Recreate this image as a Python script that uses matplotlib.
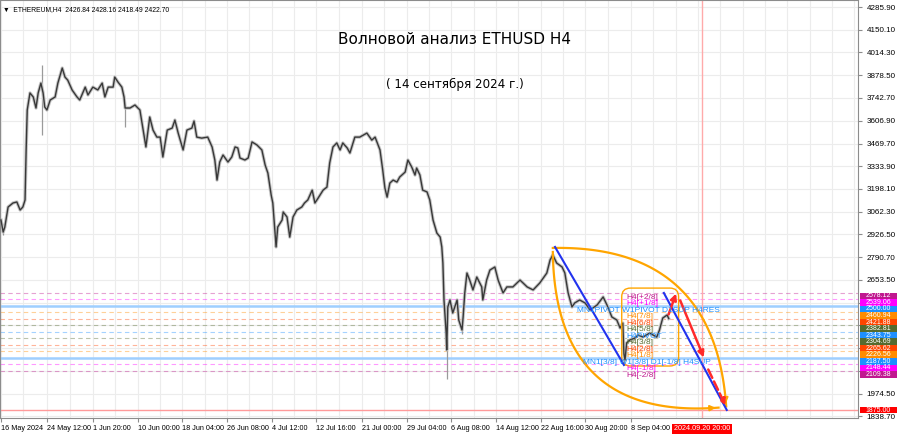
# ETHUSD H4 wave analysis chart (MT4 style) - recreated with matplotlib
import numpy as np
import matplotlib.pyplot as plt
from matplotlib.patches import FancyBboxPatch, Rectangle
import matplotlib.transforms as mtransforms

plt.rcParams['font.family'] = ['DejaVu Sans']
UI_FONT = ['Liberation Sans', 'DejaVu Sans']

# --- price path (days since 16 May 2024 00:00, close price)
days = [0.0, 0.4, 0.7, 1.3, 2.2, 2.9, 3.5, 4.0, 4.4, 4.6, 4.8, 5.3, 5.9, 6.4, 6.8,
        7.3, 7.7, 8.0, 8.4, 9.0, 9.9, 10.4, 11.2, 11.7, 12.2, 13.0, 13.9, 14.4,
        15.4, 15.9, 16.8, 17.7, 18.5, 19.0, 19.6, 20.5, 20.8, 21.4, 22.1, 22.5,
        22.7, 23.6, 24.5, 25.4, 26.0, 26.5, 27.2, 27.8, 28.5, 29.1, 29.6, 30.4,
        31.3, 31.8, 32.4, 33.3, 34.0, 34.9, 35.3, 35.8, 36.7, 37.8, 38.6, 39.1,
        39.5, 40.0, 40.6, 41.5, 42.2, 42.8, 43.3, 43.7, 44.6, 45.2, 45.9, 46.8,
        47.7, 48.3, 48.8, 49.4, 49.7, 50.3, 50.6, 51.4, 51.6, 52.3, 52.8, 53.4,
        54.1, 55.0, 55.5, 56.1, 56.9, 57.4, 58.0, 58.9, 59.6, 60.1, 60.7, 61.4,
        62.0, 62.5, 63.3, 63.8, 64.7, 65.6, 66.9, 67.8, 68.4, 69.3, 69.8, 70.2,
        70.6, 71.1, 71.7, 72.4, 72.9, 73.9, 74.4, 75.1, 75.7, 76.0, 76.6, 77.1,
        77.9, 78.4, 79.0, 79.7, 80.3, 80.6, 80.8, 81.0, 81.4, 81.5, 81.7, 82.1,
        82.6, 83.4, 83.7, 84.3, 84.5, 84.8, 85.2, 85.7, 86.3, 87.0, 87.9, 88.1,
        88.8, 89.4, 90.3, 90.9, 91.8, 92.5, 93.6, 94.9, 96.2, 97.3, 98.5, 99.8,
        100.4, 100.9, 101.6, 102.6, 103.1, 103.7, 104.4, 104.9, 105.8, 106.8,
        107.7, 109.0, 110.1, 110.8, 111.7, 112.6, 113.2, 113.7, 113.9, 114.1,
        114.4, 115.0, 115.9, 116.5, 117.4, 118.6, 119.9, 120.4, 121.0, 121.8, 122.1]
close = [3012, 2940, 2970, 3090, 3114, 3120, 3072, 3090, 3132, 3431, 3670, 3772, 3748,
         3682, 3772, 3831, 3772, 3688, 3670, 3730, 3748, 3831, 3921, 3867, 3849, 3790,
         3748, 3730, 3807, 3760, 3807, 3790, 3831, 3748, 3807, 3807, 3867, 3837, 3807,
         3748, 3682, 3682, 3700, 3670, 3550, 3449, 3628, 3550, 3508, 3508, 3389, 3550,
         3562, 3610, 3532, 3431, 3550, 3562, 3604, 3508, 3502, 3508, 3449, 3371, 3251,
         3359, 3401, 3359, 3389, 3449, 3443, 3383, 3371, 3383, 3479, 3461, 3431, 3341,
         3293, 3162, 3114, 2851, 2970, 3012, 3060, 3030, 2910, 3030, 3072, 3090, 3114,
         3132, 3191, 3114, 3144, 3191, 3209, 3353, 3449, 3473, 3431, 3473, 3443, 3413,
         3508, 3508, 3532, 3490, 3508, 3431, 3311, 3203, 3149, 3233, 3251, 3239, 3269,
         3299, 3371, 3329, 3281, 3323, 3281, 3191, 3180, 3132, 3012, 2934, 2910, 2851,
         2755, 2534, 2336, 2235, 2492, 2534, 2456, 2534, 2414, 2354, 2432, 2576, 2695,
         2653, 2594, 2671, 2612, 2534, 2653, 2713, 2731, 2653, 2576, 2612, 2612, 2653,
         2612, 2594, 2635, 2695, 2773, 2803, 2755, 2731, 2695, 2576, 2492, 2516, 2534,
         2516, 2474, 2504, 2552, 2504, 2432, 2414, 2366, 2396, 2211, 2175, 2277, 2295,
         2306, 2324, 2312, 2336, 2312, 2354, 2426, 2444, 2422.7]

# long wicks (day, low, high)
wick_days = [0.4, 7.5, 22.7, 81.5, 84.3, 113.9]
wick_low = [2925, 3520, 3568, 2060, 2330, 2150]
wick_high = [2990, 3939, 3700, 2300, 2440, 2260]

# --- Murrey math / pivot levels
levels = [2578.12, 2539.06, 2500.00, 2460.94, 2421.88, 2382.81, 2343.75,
          2304.69, 2265.62, 2226.56, 2187.50, 2148.44, 2109.38]
level_colors = ['#c0188f', '#ff00ff', '#1e90ff', '#ff8c00', '#ff4500', '#556b2f',
                '#1e90ff', '#556b2f', '#ff4500', '#ff8c00', '#1e90ff', '#ff00ff', '#c0188f']
level_names = ['H4[+2/8]', 'H4[+1/8]', 'MN1PIVOT W1PIVOT D1SUP H4RES', 'H4[7/8]',
               'H4[6/8]', 'H4[5/8]', 'H4PIVOT', 'H4[3/8]', 'H4[2/8]', 'H4[1/8]',
               'MN1[3/8] W1[3/8] D1[-1/8] H4SUP', 'H4[-1/8]', 'H4[-2/8]']
target_price = 1875.00

# --- axis ticks (the ones inside the level stack are covered in the original)
price_ticks = [4285.90, 4150.10, 4014.30, 3878.50, 3742.70, 3606.90, 3469.70, 3333.90,
               3198.10, 3062.30, 2926.50, 2790.70, 2653.50, 2517.70, 2381.90, 2246.10,
               2110.30, 1974.50, 1838.70]
hidden_ticks = [2517.70, 2381.90, 2246.10, 2110.30]
date_ticks = [0.0, 8.5, 16.83, 25.0, 33.17, 41.33, 49.5, 57.67, 66.0, 74.17,
              82.33, 90.5, 98.67, 106.83, 115.17]
date_labels = ['16 May 2024', '24 May 12:00', '1 Jun 20:00', '10 Jun 00:00',
               '18 Jun 04:00', '26 Jun 08:00', '4 Jul 12:00', '12 Jul 16:00',
               '21 Jul 00:00', '29 Jul 04:00', '6 Aug 08:00', '14 Aug 12:00',
               '22 Aug 16:00', '30 Aug 20:00', '8 Sep 04:00']
cursor_day = 128.2   # 2024.09.20 20:00

fig = plt.figure(figsize=(9, 4.43), dpi=100)
ax = fig.add_axes([0.0, 25 / 443, 858 / 900, 418 / 443])
ax.set_xlim(-0.18, 156.7)
ax.set_ylim(1828, 4328)

# grid
for p in price_ticks:
    ax.axhline(p, color='#ececec', lw=0.8, zorder=0)
grid_x = list(date_ticks) + [date_ticks[-1] + 8.1667 * k for k in range(1, 6)]
for d in grid_x:
    ax.axvline(d, color='#ececec', lw=0.8, zorder=0)
    ax.axvline(d + 4.083, color='#ececec', lw=0.8, zorder=0)

# level lines
for lv, c in zip(levels, level_colors):
    if lv in (2500.00, 2187.50):
        ax.axhline(lv, color='#9fcfff', lw=1.8, zorder=1)
    else:
        ax.axhline(lv, color=c, lw=0.8, ls=(0, (4, 3)), alpha=0.4, zorder=1)
ax.axhline(target_price, color='#ff9a9a', lw=1.0, zorder=1)
ax.axvline(cursor_day, color='#ffaaaa', lw=1.0, zorder=1)

# price
ax.vlines(wick_days, wick_low, wick_high, color='#9a9a9a', lw=0.9, zorder=2)
ax.plot(days, close, color='#c4c4c4', lw=2.4, zorder=2)
ax.plot(days, close, color='#383838', lw=1.0, zorder=3)

# wave markup
t = np.linspace(0, 1, 80)
def bezier(p0, c, p2):
    x = (1 - t) ** 2 * p0[0] + 2 * (1 - t) * t * c[0] + t ** 2 * p2[0]
    y = (1 - t) ** 2 * p0[1] + 2 * (1 - t) * t * c[1] + t ** 2 * p2[1]
    return x, y

orange = '#ffa500'
bx, by = bezier((100.9, 2845), (130.5, 2863), (132.6, 1898))
ax.plot(bx, by, color=orange, lw=1.6, zorder=4)
ax.annotate('', xy=(bx[-1], by[-1]), xytext=(bx[-4], by[-4]),
            arrowprops=dict(arrowstyle='-|>', color=orange, lw=1.4, mutation_scale=8))
bx, by = bezier((100.9, 2821), (101.3, 1816), (131.2, 1890))
ax.plot(bx, by, color=orange, lw=1.6, zorder=4)
ax.annotate('', xy=(bx[-1], by[-1]), xytext=(bx[-4], by[-4]),
            arrowprops=dict(arrowstyle='-|>', color=orange, lw=1.4, mutation_scale=8))

box = FancyBboxPatch((113.5, 2139), 10.4, 466,
                     boxstyle='round,pad=0,rounding_size=1.6',
                     mutation_aspect=32.7, fc='none', ec=orange, lw=1.0, zorder=4)
ax.add_patch(box)

ax.plot([101.3, 113.9], [2851, 2145], color='#2233ee', lw=1.5, zorder=5)
ax.plot([121.2, 132.7], [2576, 1876], color='#2233ee', lw=1.5, zorder=5)

red = '#ff2a2a'
ax.annotate('', xy=(123.6, 2588), xytext=(121.9, 2432),
            arrowprops=dict(arrowstyle='-|>', color=red, lw=1.8, mutation_scale=9), zorder=6)
ax.annotate('', xy=(128.7, 2175), xytext=(124.0, 2546),
            arrowprops=dict(arrowstyle='-|>', color=red, lw=1.8, mutation_scale=9), zorder=6)
ax.annotate('', xy=(132.7, 1888), xytext=(129.1, 2133),
            arrowprops=dict(arrowstyle='-|>', color=red, lw=1.8, ls='--',
                            mutation_scale=9), zorder=6)

# level texts inside the chart
for lv, c, name in zip(levels, level_colors, level_names):
    if name.startswith('MN1PIVOT'):
        x0 = 105.3
    elif name.startswith('MN1['):
        x0 = 106.4
    else:
        x0 = 114.4
    ax.text(x0, lv - 6, name, color=c, fontsize=6.0, va='top', ha='left', zorder=7,
            family=UI_FONT)

# right-hand price labels (boxes one level-step tall, sitting just under the line)
ytrans = mtransforms.blended_transform_factory(ax.transAxes, ax.transData)
step = 39.06
for lv, c in zip(levels + [target_price], level_colors + ['#ff0000']):
    yc = lv if lv == target_price else lv - 20
    ax.add_patch(Rectangle((1.0025, yc - step / 2), 0.043, step, transform=ytrans,
                           fc=c, ec='none', clip_on=False, zorder=8))
    ax.text(1.024, yc, f'{lv:.2f}', transform=ytrans, color='white', fontsize=5.0,
            va='center', ha='center', zorder=9, clip_on=False, family=UI_FONT)

# axes look
for s in ax.spines.values():
    s.set_color('#8c8c8c')
    s.set_linewidth(0.8)
ax.yaxis.tick_right()
ax.set_yticks(price_ticks)
ax.set_yticklabels(['' if p in hidden_ticks else f'{p:.2f}' for p in price_ticks],
                   family=UI_FONT)
ax.tick_params(axis='y', labelsize=5.8, length=3, color='#8c8c8c', pad=3)
ax.set_xticks(date_ticks)
ax.set_xticklabels(date_labels, family=UI_FONT)
ax.tick_params(axis='x', labelsize=5.2, length=3, color='#8c8c8c', pad=2)
for lab in ax.get_xticklabels():
    lab.set_ha('left')

xtrans = mtransforms.blended_transform_factory(ax.transData, ax.transAxes)
ax.text(cursor_day, -0.026, '2024.09.20 20:00', transform=xtrans, color='white',
        fontsize=5.2, ha='center', va='center', clip_on=False, zorder=9, family=UI_FONT,
        bbox=dict(boxstyle='square,pad=0.25', fc='#ff0000', ec='none'))

# titles
ax.text(0.004, 0.985, '\u25bc  ETHEREUM,H4  2426.84 2428.16 2418.49 2422.70',
        transform=ax.transAxes, fontsize=4.9, va='top', ha='left', family=UI_FONT)
ax.text(0.53, 0.905, 'Волновой анализ ETHUSD H4', transform=ax.transAxes,
        fontsize=11, ha='center', va='center')
ax.text(0.53, 0.797, '( 14 сентября 2024 г.)', transform=ax.transAxes,
        fontsize=8.6, ha='center', va='center')

fig.savefig('out.png', dpi=100, facecolor='white')
